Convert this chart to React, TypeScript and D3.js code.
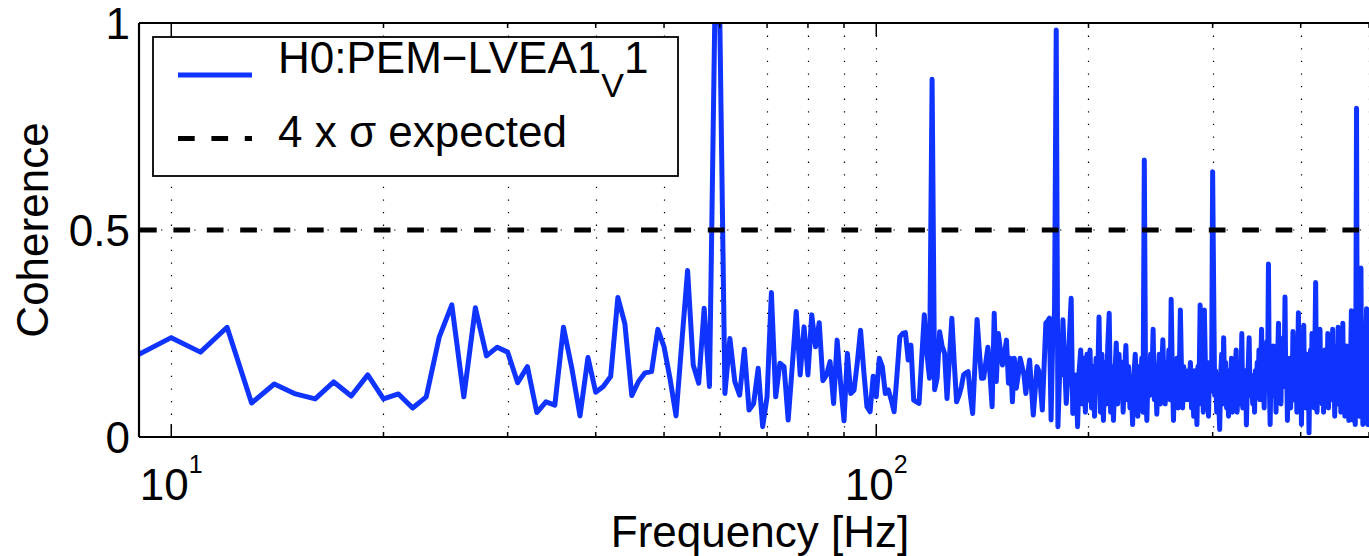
import React from 'react';
import * as d3 from 'd3';

// Coherence per 1 Hz bin
// 9 Hz .. 59 Hz
const cohLow = [
  0.20,
  0.24, 0.205, 0.265, 0.082, 0.128, 0.104, 0.092, 0.133, 0.099, 0.150,
  0.092, 0.104, 0.070, 0.097, 0.242, 0.319, 0.097, 0.312, 0.196, 0.217,
  0.205, 0.131, 0.170, 0.059, 0.085, 0.077, 0.265, 0.166, 0.051, 0.192,
  0.108, 0.122, 0.146, 0.337, 0.273, 0.100, 0.134, 0.155, 0.158, 0.260,
  0.218, 0.14, 0.051, 0.23, 0.402, 0.174, 0.130, 0.311, 0.122, 1.0,
];
// 60 Hz .. 199 Hz
const cohMid = [
  1.0, 0.105, 0.238, 0.134, 0.101, 0.212, 0.065, 0.081, 0.166, 0.025,
  0.097, 0.349, 0.097, 0.178, 0.170, 0.041, 0.17, 0.303, 0.150, 0.266,
  0.150, 0.295, 0.218, 0.276, 0.136, 0.15, 0.182, 0.081, 0.234, 0.13,
  0.039, 0.202, 0.105, 0.113, 0.18, 0.258, 0.16, 0.073, 0.061, 0.147,
  0.097, 0.190, 0.170, 0.105, 0.114, 0.09, 0.061, 0.15, 0.242, 0.25,
  0.252, 0.186, 0.222, 0.089, 0.085, 0.081, 0.19, 0.295, 0.20, 0.142,
  0.864, 0.114, 0.142, 0.254, 0.22, 0.202, 0.093, 0.19, 0.287, 0.18,
  0.085, 0.10, 0.12, 0.150, 0.155, 0.158, 0.10, 0.057, 0.17, 0.284,
  0.21, 0.142, 0.142, 0.18, 0.217, 0.15, 0.073, 0.299, 0.134, 0.250,
  0.21, 0.174, 0.20, 0.234, 0.130, 0.190, 0.085, 0.190, 0.118, 0.15,
  0.190, 0.17, 0.15, 0.105, 0.15, 0.186, 0.12, 0.053, 0.11, 0.170,
  0.16, 0.12, 0.065, 0.17, 0.275, 0.28, 0.287, 0.041, 0.25, 0.30,
  0.983, 0.025, 0.15, 0.15, 0.283, 0.18, 0.081, 0.15, 0.25, 0.335,
  0.057, 0.10, 0.15, 0.025, 0.16, 0.210, 0.08, 0.19, 0.06, 0.20,
];
// 200 Hz .. 500 Hz
const cohHigh = [
  0.09, 0.21, 0.07, 0.17, 0.05, 0.19, 0.12, 0.29, 0.06, 0.20,
  0.04, 0.18, 0.08, 0.22, 0.299, 0.06, 0.17, 0.04, 0.15, 0.227,
  0.08, 0.20, 0.12, 0.18, 0.06, 0.16, 0.221, 0.09, 0.17, 0.07,
  0.12, 0.03, 0.15, 0.20, 0.11, 0.05, 0.17, 0.09, 0.19, 0.06,
  0.669, 0.12, 0.04, 0.16, 0.10, 0.20, 0.13, 0.26, 0.09, 0.17,
  0.055, 0.14, 0.20, 0.08, 0.16, 0.235, 0.12, 0.08, 0.18, 0.11,
  0.21, 0.09, 0.333, 0.15, 0.04, 0.16, 0.10, 0.19, 0.07, 0.14,
  0.307, 0.16, 0.07, 0.17, 0.10, 0.15, 0.09, 0.16, 0.12, 0.18,
  0.07, 0.13, 0.05, 0.16, 0.10, 0.03, 0.17, 0.12, 0.319, 0.08,
  0.15, 0.06, 0.307, 0.17, 0.10, 0.14, 0.05, 0.18, 0.11, 0.13,
  0.641, 0.36, 0.10, 0.16, 0.06, 0.14, 0.09, 0.018, 0.15, 0.20,
  0.08, 0.24, 0.12, 0.18, 0.07, 0.13, 0.05, 0.16, 0.09, 0.19,
  0.06, 0.14, 0.10, 0.17, 0.21, 0.06, 0.13, 0.08, 0.18, 0.11,
  0.25, 0.07, 0.14, 0.09, 0.16, 0.029, 0.12, 0.17, 0.24, 0.10,
  0.15, 0.12, 0.08, 0.14, 0.06, 0.16, 0.10, 0.18, 0.12, 0.21,
  0.09, 0.17, 0.26, 0.11, 0.14, 0.07, 0.19, 0.12, 0.23, 0.15,
  0.418, 0.13, 0.03, 0.16, 0.10, 0.19, 0.22, 0.12, 0.17, 0.06,
  0.15, 0.19, 0.275, 0.10, 0.16, 0.08, 0.21, 0.13, 0.24, 0.17,
  0.338, 0.12, 0.18, 0.04, 0.15, 0.10, 0.19, 0.07, 0.16, 0.12,
  0.255, 0.09, 0.17, 0.13, 0.21, 0.06, 0.18, 0.30, 0.14, 0.08,
  0.17, 0.03, 0.15, 0.19, 0.27, 0.11, 0.16, 0.07, 0.20, 0.12,
  0.17, 0.01, 0.14, 0.21, 0.09, 0.25, 0.12, 0.19, 0.07, 0.22,
  0.373, 0.14, 0.06, 0.18, 0.11, 0.20, 0.26, 0.13, 0.17, 0.08,
  0.19, 0.06, 0.16, 0.21, 0.10, 0.18, 0.13, 0.25, 0.07, 0.17,
  0.12, 0.22, 0.09, 0.16, 0.26, 0.11, 0.19, 0.05, 0.17, 0.13,
  0.22, 0.08, 0.265, 0.15, 0.10, 0.20, 0.06, 0.18, 0.12, 0.275,
  0.09, 0.17, 0.05, 0.20, 0.13, 0.22, 0.08, 0.18, 0.04, 0.16,
  0.12, 0.21, 0.305, 0.07, 0.19, 0.04, 0.24, 0.11, 0.03, 0.28,
  0.794, 0.20, 0.06, 0.21, 0.05, 0.25, 0.12, 0.408, 0.08, 0.20,
  0.03, 0.22, 0.06, 0.19, 0.04, 0.25, 0.31, 0.10, 0.03, 0.20,
  0.12,
];

const FREQ_START = 9; // Hz of the first bin, bins every 1 Hz
const xDomain = [9, 520];
const xMajorTicks = [10, 100];
const xMajorExp = ['1', '2'];
const xMinorTicks = [20, 30, 40, 50, 60, 70, 80, 90, 200, 300, 400, 500];
const yTicks = [0, 0.5, 1];
const yTickLabels = ['0', '0.5', '1'];
const expectedLevel = 0.5;

const FONT = "'Liberation Sans', Arial, Helvetica, sans-serif";
const BLUE = '#1034ff';

export default function App() {
  const W = 1369;
  const H = 556;
  const left = 139;
  const top = 23;
  const bottom = 437;
  const decadePx = 705;
  const right = left + decadePx * Math.log10(xDomain[1] / xDomain[0]);

  const values = [...cohLow, ...cohMid, ...cohHigh];
  const freqs = values.map((_, i) => FREQ_START + i);

  const x = d3.scaleLog().domain(xDomain).range([left, right]);
  const y = d3.scaleLinear().domain([0, 1]).range([bottom, top]);

  const line = d3
    .line<number>()
    .x((_, i) => x(freqs[i]))
    .y((d) => y(d));

  const allXTicks = [...xMajorTicks, ...xMinorTicks];

  return (
    <svg
      width={W}
      height={H}
      style={{ position: 'absolute', left: 0, top: 0, display: 'block', background: '#fff' }}
      fontFamily={FONT}
    >
      <defs>
        <clipPath id="plotClip">
          <rect x={left} y={top} width={right - left} height={bottom - top} />
        </clipPath>
      </defs>
      <rect x={0} y={0} width={W} height={H} fill="#fff" />

      {/* grid */}
      <g stroke="#000" strokeWidth={1.2} fill="none">
        {allXTicks.map((t) => (
          <line
            key={'g' + t}
            x1={Math.round(x(t)) + 0.5}
            x2={Math.round(x(t)) + 0.5}
            y1={top}
            y2={bottom}
            strokeDasharray="1.3,11.3"
          />
        ))}
        <line
          x1={left}
          x2={right}
          y1={y(0.5)}
          y2={y(0.5)}
          strokeDasharray="1.3,32"
          strokeDashoffset={-22}
        />
      </g>

      {/* data line */}
      <g clipPath="url(#plotClip)">
        <path
          d={line(values) || ''}
          fill="none"
          stroke={BLUE}
          strokeWidth={5}
          strokeLinejoin="round"
          strokeLinecap="round"
        />
        <line
          x1={left}
          x2={right}
          y1={y(expectedLevel)}
          y2={y(expectedLevel)}
          stroke="#000"
          strokeWidth={5}
          strokeDasharray="16.7,16.7"
          strokeDashoffset={-1}
        />
      </g>

      {/* axes box */}
      <g stroke="#000" strokeWidth={2.2} fill="none">
        <line x1={left} x2={right} y1={bottom} y2={bottom} />
        <line x1={left} x2={right} y1={top} y2={top} />
        <line x1={left} x2={left} y1={top} y2={bottom} />
      </g>
      <g stroke="#000" strokeWidth={1.5}>
        {xMajorTicks.map((t) => (
          <g key={'mt' + t}>
            <line x1={x(t)} x2={x(t)} y1={bottom} y2={bottom - 13} />
            <line x1={x(t)} x2={x(t)} y1={top} y2={top + 13} />
          </g>
        ))}
        {xMinorTicks.map((t) => (
          <g key={'nt' + t}>
            <line x1={x(t)} x2={x(t)} y1={bottom} y2={bottom - 5} />
            <line x1={x(t)} x2={x(t)} y1={top} y2={top + 5} />
          </g>
        ))}
        {yTicks.map((t) => (
          <line key={'yt' + t} x1={left} x2={left + 12} y1={y(t)} y2={y(t)} />
        ))}
      </g>

      {/* tick labels */}
      <g fontSize={44} fill="#000">
        {yTicks.map((t, i) => (
          <text key={'yl' + t} x={130} y={y(t) + 16} textAnchor="end">
            {yTickLabels[i]}
          </text>
        ))}
        {xMajorTicks.map((t, i) => (
          <text key={'xl' + t} x={x(t)} y={500} textAnchor="middle">
            10
            <tspan fontSize={25} dy={-27}>
              {xMajorExp[i]}
            </tspan>
          </text>
        ))}
      </g>

      {/* axis titles */}
      <text x={(left + right) / 2} y={547} fontSize={44} textAnchor="middle" fill="#000">
        Frequency [Hz]
      </text>
      <text
        transform={`translate(48, ${(top + bottom) / 2}) rotate(-90)`}
        fontSize={44}
        textAnchor="middle"
        fill="#000"
      >
        Coherence
      </text>

      {/* legend */}
      <g>
        <rect x={153} y={37} width={525} height={139} fill="#fff" stroke="#000" strokeWidth={1.8} />
        <line x1={178} x2={252} y1={75} y2={75} stroke={BLUE} strokeWidth={5} />
        <text x={278} y={73} fontSize={44} fill="#000">
          H0:PEM−LVEA1
          <tspan fontSize={34} dy={24}>
            V
          </tspan>
          <tspan fontSize={44} dy={-24}>
            1
          </tspan>
        </text>
        <line
          x1={178}
          x2={252}
          y1={138.5}
          y2={138.5}
          stroke="#000"
          strokeWidth={5}
          strokeDasharray="16.7,16.7"
        />
        <text x={278} y={147} fontSize={44} fill="#000">
          4 x σ expected
        </text>
      </g>
    </svg>
  );
}
